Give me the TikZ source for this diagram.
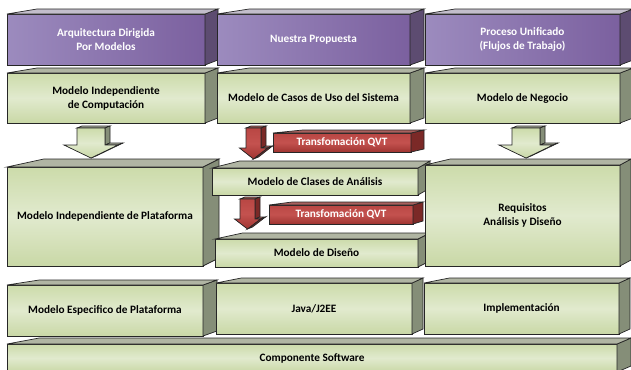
\documentclass[tikz,border=0pt]{standalone}
\usepackage{fontspec}
\setmainfont{Carlito}
\usetikzlibrary{calc}

\definecolor{edge}{HTML}{262626}
\definecolor{pLeft}{HTML}{9C8BBE}
\definecolor{pRight}{HTML}{7B609F}
\definecolor{pSide}{HTML}{5D4C71}
\definecolor{pTop}{HTML}{C3BECB}
\definecolor{gTop}{HTML}{CCDBAA}
\definecolor{gMid}{HTML}{E1EACE}
\definecolor{gBot}{HTML}{C9D8A6}
\definecolor{gSide}{HTML}{858E78}
\definecolor{gCap}{HTML}{B0B5A3}
\definecolor{rTop}{HTML}{B94744}
\definecolor{rMid}{HTML}{C4524F}
\definecolor{rBot}{HTML}{9F3431}
\definecolor{rSide}{HTML}{7B2927}
\definecolor{rCap}{HTML}{A9605D}

% 3D block: name, left, top, right, bottom, depth x, depth y, family, text
\newcommand\blockbox[9]{%
  \node[#8front, minimum width={#4bp-#2bp}, minimum height={#5bp-#3bp},
        anchor=north west] (#1) at (#2,#3) {#9};
  \filldraw[#8side] (#1.north east) -- ++(#6,-#7)
     -- ([shift={(#6,-#7)}]#1.south east) -- (#1.south east) -- cycle;
  \filldraw[#8top] (#1.north west) -- ([shift={({2.3*#6},-#7)}]#1.north west)
     -- ([shift={(#6,-#7)}]#1.north east) -- (#1.north east) -- cycle;
}

% 3D down arrow: centre x, shaft half width, head half width,
% shaft top, head base, tip, depth x, depth y, family
\newcommand\blockarrow[9]{%
  \filldraw[#9top] ({#1-#2},#4) -- ({#1+#2},#4) -- ({#1+#2+#7},{#4-#8}) -- ({#1-#2+#7},{#4-#8}) -- cycle;
  \filldraw[#9side] ({#1+#2},#4) -- ({#1+#2+#7},{#4-#8}) -- ({#1+#2+#7},{#5-#8}) -- ({#1+#2},#5) -- cycle;
  \filldraw[#9top] ({#1+#2},#5) -- ({#1+#3},#5) -- ({#1+#3+#7},{#5-#8}) -- ({#1+#2+#7},{#5-#8}) -- cycle;
  \filldraw[#9side] ({#1+#3},#5) -- ({#1+#3+#7},{#5-#8}) -- ({#1+#7},{#6-#8}) -- (#1,#6) -- cycle;
  \filldraw[#9arrow] ({#1-#2},#4) -- ({#1+#2},#4) -- ({#1+#2},#5) -- ({#1+#3},#5)
     -- (#1,#6) -- ({#1-#3},#5) -- ({#1-#2},#5) -- cycle;
}

\begin{document}
\begin{tikzpicture}[x=1bp,y=-1bp,
  face/.style={draw=edge, line width=0.7bp, line join=miter},
  label/.style={face, inner sep=0pt, outer sep=0pt, align=center,
    font=\bfseries\fontsize{11.3}{14}\selectfont},
  purplefront/.style={label, left color=pLeft, right color=pRight, text=white},
  purpleside/.style={face, fill=pSide},
  purpletop/.style={face, fill=pTop},
  greenfront/.style={label, top color=gTop, bottom color=gBot, middle color=gMid, text=black},
  greenside/.style={face, fill=gSide},
  greentop/.style={face, fill=gCap},
  greenarrow/.style={face, top color=gTop, bottom color=gBot, middle color=gMid},
  redfront/.style={label, top color=rTop, bottom color=rBot, middle color=rMid, text=white},
  redside/.style={face, fill=rSide},
  redtop/.style={face, fill=rCap},
  redarrow/.style={face, top color=rTop, bottom color=rBot, middle color=rMid},
]
\clip (0,0) rectangle (631,369);
\fill[white] (0,0) rectangle (631,369);

% header row
\blockbox{mda}{7}{14}{205}{65}{13}{5}{purple}{Arquitectura Dirigida\\Por Modelos}
\blockbox{prop}{217}{14}{410}{65}{14}{5}{purple}{Nuestra Propuesta}
\blockbox{rup}{425}{14}{620}{65}{13}{5}{purple}{Proceso Unificado\\(Flujos de Trabajo)}

% first models
\blockbox{cim}{7}{73}{205}{123}{13}{5}{green}{Modelo Independiente\\de Computación}
\blockbox{casos}{217}{73}{410}{123}{14}{5}{green}{Modelo de Casos de Uso del Sistema}
\blockbox{negocio}{425}{73}{620}{123}{13}{5}{green}{Modelo de Negocio}

% platform independent level
\blockbox{pim}{7}{167}{203}{266}{16}{8}{green}{Modelo Independiente de Plataforma}
\blockarrow{91}{14}{27}{128}{145}{158}{5}{2}{green}

\blockbox{qvt1}{273}{133}{411}{152}{13}{3}{red}{Transfomación QVT}
\blockarrow{253.5}{7.5}{14}{128}{148}{159}{5}{2}{red}
\blockbox{clases}{212}{168}{418}{195}{12}{7}{green}{Modelo de Clases de Análisis}

\blockbox{qvt2}{269}{205}{413}{224}{10}{3}{red}{Transfomación QVT}
\blockarrow{247.5}{7.5}{13}{199}{219}{229}{5}{2}{red}
\blockbox{diseno}{215}{239}{418}{267}{12}{6}{green}{Modelo de Diseño}

\blockbox{requisitos}{425}{165}{620}{266}{11}{6}{green}{Requisitos\\Análisis y Diseño}
\blockarrow{526}{14}{27}{128}{145}{158}{5}{2}{green}

% platform specific level
\blockbox{software}{7}{344}{617}{372}{14}{6}{green}{Componente Software}
\blockbox{psm}{7}{285}{203}{336}{14}{5}{green}{Modelo Especifico de Plataforma}
\blockbox{java}{216}{283}{412}{334}{11}{5}{green}{Java/J2EE}
\blockbox{impl}{424}{283}{619}{334}{11}{5}{green}{Implementación}
\end{tikzpicture}
\end{document}
